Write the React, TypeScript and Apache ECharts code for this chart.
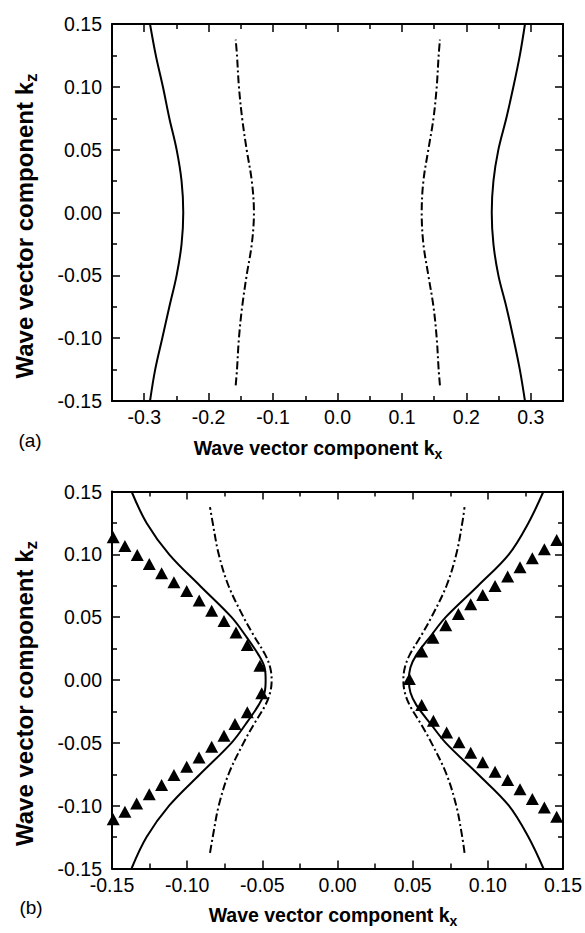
import React, { useEffect, useRef } from "react";
import * as echarts from "echarts";

// ---------- tick labels ----------
const topXMajor = [-0.3, -0.2, -0.1, 0, 0.1, 0.2, 0.3];
const topXMinor = [-0.25, -0.15, -0.05, 0.05, 0.15, 0.25];

// ---------- panel (a) ----------
const aSolidRight = [
  [0.291, -0.15], [0.283, -0.125], [0.273, -0.1], [0.262, -0.075], [0.2497, -0.05],
  [0.242, -0.025], [0.2394, 0], [0.242, 0.025], [0.2497, 0.05], [0.262, 0.075],
  [0.273, 0.1], [0.283, 0.125], [0.291, 0.15],
];
const aSolidLeft = [
  [-0.291, -0.15], [-0.283, -0.125], [-0.272, -0.1], [-0.261, -0.075], [-0.2497, -0.05],
  [-0.242, -0.025], [-0.2394, 0], [-0.242, 0.025], [-0.2497, 0.05], [-0.261, 0.075],
  [-0.271, 0.1], [-0.282, 0.125], [-0.291, 0.15],
];
const aDashRight = [
  [0.159, -0.1375], [0.157, -0.125], [0.154, -0.1], [0.149, -0.075], [0.141, -0.05],
  [0.1333, -0.025], [0.1307, 0], [0.1333, 0.025], [0.141, 0.05], [0.149, 0.075],
  [0.154, 0.1], [0.157, 0.125], [0.159, 0.1375],
];
const aDashLeft = [
  [-0.158, -0.1375], [-0.156, -0.125], [-0.153, -0.1], [-0.148, -0.075], [-0.141, -0.05],
  [-0.133, -0.025], [-0.1297, 0], [-0.133, 0.025], [-0.141, 0.05], [-0.148, 0.075],
  [-0.153, 0.1], [-0.156, 0.125], [-0.158, 0.1375],
];

// ---------- panel (b) ----------
const bSolidRight = [
  [0.137, -0.15], [0.127, -0.125], [0.114, -0.1], [0.0935, -0.075], [0.072, -0.05],
  [0.062, -0.035], [0.0525, -0.02], [0.0485, -0.01], [0.0475, 0], [0.0485, 0.01],
  [0.0525, 0.02], [0.062, 0.035], [0.072, 0.05], [0.0935, 0.075], [0.114, 0.1],
  [0.127, 0.125], [0.137, 0.15],
];
const bSolidLeft = [
  [-0.137, -0.15], [-0.127, -0.125], [-0.112, -0.1], [-0.0915, -0.075], [-0.0705, -0.05],
  [-0.061, -0.035], [-0.0525, -0.02], [-0.0485, -0.01], [-0.0478, 0], [-0.0485, 0.01],
  [-0.0525, 0.02], [-0.061, 0.035], [-0.0705, 0.05], [-0.0915, 0.075], [-0.112, 0.1],
  [-0.127, 0.125], [-0.137, 0.15],
];
const bDashRight = [
  [0.0845, -0.1375], [0.083, -0.125], [0.079, -0.1], [0.0725, -0.075], [0.0625, -0.05],
  [0.0555, -0.035], [0.048, -0.02], [0.0448, -0.01], [0.0438, 0], [0.0448, 0.01],
  [0.048, 0.02], [0.0555, 0.035], [0.0625, 0.05], [0.0725, 0.075], [0.079, 0.1],
  [0.083, 0.125], [0.0845, 0.1375],
];
const bDashLeft = [
  [-0.0848, -0.1375], [-0.083, -0.125], [-0.079, -0.1], [-0.0725, -0.075], [-0.0625, -0.05],
  [-0.0555, -0.035], [-0.048, -0.02], [-0.0448, -0.01], [-0.0438, 0], [-0.0448, 0.01],
  [-0.048, 0.02], [-0.0555, 0.035], [-0.0625, 0.05], [-0.0725, 0.075], [-0.079, 0.1],
  [-0.083, 0.125], [-0.0848, 0.1375],
];
const bTriRight = [
  [0.1458, 0.1115], [0.1376, 0.104], [0.1296, 0.0969], [0.1214, 0.0897], [0.1132, 0.0823],
  [0.1048, 0.0748], [0.0966, 0.0677], [0.0886, 0.0602], [0.0804, 0.0525], [0.072, 0.0435],
  [0.0635, 0.0337], [0.056, 0.0226], [0.0478, 0.0008],
  [0.056, -0.0199], [0.0638, -0.0324], [0.0726, -0.0417], [0.0808, -0.0496], [0.0886, -0.0579],
  [0.0966, -0.0655], [0.1048, -0.073], [0.1132, -0.0796], [0.1214, -0.087], [0.1296, -0.0947],
  [0.1376, -0.1014], [0.1458, -0.1088],
];
const bTriLeft = [
  [-0.1492, 0.1136], [-0.1414, 0.1067], [-0.1332, 0.0995], [-0.1252, 0.0924], [-0.117, 0.085],
  [-0.1088, 0.0778], [-0.1003, 0.0709], [-0.092, 0.0632], [-0.0837, 0.0552], [-0.0755, 0.047],
  [-0.0675, 0.0377], [-0.06, 0.0279], [-0.0516, 0.0114],
  [-0.0504, -0.0106], [-0.06, -0.0257], [-0.0682, -0.035], [-0.0755, -0.0444], [-0.0837, -0.0531],
  [-0.0921, -0.0616], [-0.1003, -0.069], [-0.1088, -0.0756], [-0.117, -0.0836], [-0.1252, -0.091],
  [-0.1336, -0.0982], [-0.1414, -0.1048], [-0.1492, -0.1109],
];

const FONT = "Liberation Sans, Arial, Helvetica, sans-serif";
const BLACK = "#000";

function measure(text: string, font: string): number {
  const c = document.createElement("canvas").getContext("2d");
  if (!c) return text.length * 10;
  c.font = font;
  return c.measureText(text).width;
}

function fmt(d: number) {
  return (v: number) => {
    const x = Math.abs(v) < 1e-9 ? 0 : v;
    return x.toFixed(d);
  };
}

function titleChildren(main: string, sub: string, size: number, subSize: number, subDy: number) {
  const fMain = `bold ${size}px ${FONT}`;
  const fSub = `bold ${subSize}px ${FONT}`;
  const wMain = measure(main, fMain);
  const wSub = measure(sub, fSub);
  const x0 = -(wMain + wSub) / 2;
  return [
    {
      type: "text",
      x: x0,
      y: 0,
      style: { text: main, font: fMain, fill: BLACK, textAlign: "left", textVerticalAlign: "middle" },
    },
    {
      type: "text",
      x: x0 + wMain,
      y: subDy,
      style: { text: sub, font: fSub, fill: BLACK, textAlign: "left", textVerticalAlign: "middle" },
    },
  ];
}

export default function App() {
  const ref = useRef<HTMLDivElement>(null);

  useEffect(() => {
    document.body.style.margin = "0";
    if (!ref.current) return;
    const chart = echarts.init(ref.current, null, { renderer: "svg" });

    const GL = 112, GW = 451, GH = 377;
    const G0T = 24, G1T = 491.5;

    const lineAx = { show: true, lineStyle: { color: BLACK, width: 2 } };
    const label = (d: number, show: boolean, margin: number) => ({
      show,
      color: BLACK,
      fontSize: 19.5,
      fontFamily: FONT,
      margin,
      formatter: fmt(d),
    });

    const stdAxis = (gridIndex: number, position: string, showLabel: boolean, d: number, margin: number) => ({
      type: "value",
      gridIndex,
      position,
      min: -0.15,
      max: 0.15,
      interval: 0.05,
      axisLine: { ...lineAx, onZero: false },
      axisTick: { show: true, inside: true, length: 8, lineStyle: { color: BLACK, width: 1.5 } },
      minorTick: { show: true, splitNumber: 2, length: 5, lineStyle: { color: BLACK, width: 1.5 } },
      axisLabel: label(d, showLabel, margin),
      splitLine: { show: false },
      minorSplitLine: { show: false },
    });

    const topX = (position: string, showLabel: boolean) => ({
      type: "value",
      gridIndex: 0,
      position,
      min: -0.35,
      max: 0.35,
      axisLine: { ...lineAx, onZero: false },
      axisTick: { show: true, inside: true, length: 8, customValues: topXMajor, lineStyle: { color: BLACK, width: 1.5 } },
      axisLabel: { ...label(1, showLabel, 6), customValues: topXMajor },
      splitLine: { show: false },
    });
    const topXMin = (position: string) => ({
      type: "value",
      gridIndex: 0,
      position,
      min: -0.35,
      max: 0.35,
      axisLine: { show: false, onZero: false },
      axisTick: { show: true, inside: true, length: 5, customValues: topXMinor, lineStyle: { color: BLACK, width: 1.5 } },
      axisLabel: { show: false, customValues: topXMinor },
      splitLine: { show: false },
    });

    const solid = { color: BLACK, width: 2, type: "solid" };
    const dashdot = { color: BLACK, width: 2, type: [8, 3, 2, 3] };

    const lineSeries = (data: number[][], xi: number, yi: number, style: any) => ({
      type: "line",
      data,
      xAxisIndex: xi,
      yAxisIndex: yi,
      showSymbol: false,
      symbol: "none",
      smooth: 0.35,
      lineStyle: style,
      itemStyle: { color: BLACK },
      clip: true,
      silent: true,
    });
    const triSeries = (data: number[][]) => ({
      type: "scatter",
      data,
      xAxisIndex: 4,
      yAxisIndex: 2,
      symbol: "triangle",
      symbolSize: [13, 12],
      itemStyle: { color: BLACK, opacity: 1 },
      clip: true,
      silent: true,
    });

    chart.setOption({
      animation: false,
      backgroundColor: "#fff",
      grid: [
        { left: GL, top: G0T, width: GW, height: GH, containLabel: false },
        { left: GL, top: G1T, width: GW, height: GH, containLabel: false },
      ],
      xAxis: [
        topX("bottom", true),
        topXMin("bottom"),
        topX("top", false),
        topXMin("top"),
        stdAxis(1, "bottom", true, 2, 6),
        stdAxis(1, "top", false, 2, 6),
      ],
      yAxis: [
        stdAxis(0, "left", true, 2, 10),
        stdAxis(0, "right", false, 2, 10),
        stdAxis(1, "left", true, 2, 10),
        stdAxis(1, "right", false, 2, 10),
      ],
      series: [
        lineSeries(aSolidRight, 0, 0, solid),
        lineSeries(aSolidLeft, 0, 0, solid),
        lineSeries(aDashRight, 0, 0, dashdot),
        lineSeries(aDashLeft, 0, 0, dashdot),
        lineSeries(bSolidRight, 4, 2, solid),
        lineSeries(bSolidLeft, 4, 2, solid),
        lineSeries(bDashRight, 4, 2, dashdot),
        lineSeries(bDashLeft, 4, 2, dashdot),
        triSeries(bTriRight),
        triSeries(bTriLeft),
      ],
      graphic: [
        { type: "group", x: 318, y: 448, children: titleChildren("Wave vector component k", "x", 19.5, 14, 6) },
        { type: "group", x: 333, y: 915, children: titleChildren("Wave vector component k", "x", 19.5, 14, 6) },
        { type: "group", x: 24, y: 226, rotation: Math.PI / 2, children: titleChildren("Wave vector component k", "z", 24, 17, 7) },
        { type: "group", x: 24, y: 693.5, rotation: Math.PI / 2, children: titleChildren("Wave vector component k", "z", 24, 17, 7) },
        {
          type: "text", x: 30, y: 440,
          style: { text: "(a)", font: `19px ${FONT}`, fill: BLACK, textAlign: "center", textVerticalAlign: "middle" },
        },
        {
          type: "text", x: 31, y: 907,
          style: { text: "(b)", font: `19px ${FONT}`, fill: BLACK, textAlign: "center", textVerticalAlign: "middle" },
        },
      ],
    });

    return () => chart.dispose();
  }, []);

  return <div ref={ref} style={{ width: 585, height: 933 }} />;
}
